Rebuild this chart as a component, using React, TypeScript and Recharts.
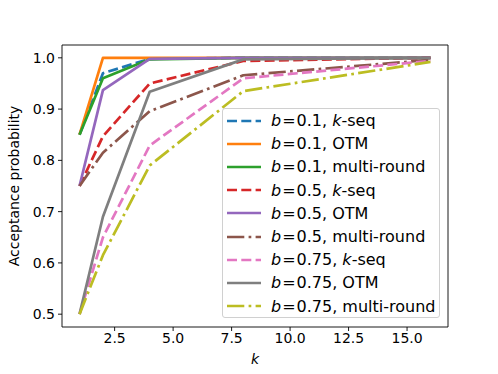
import React from 'react'
import {
  LineChart,
  Line,
  XAxis,
  YAxis,
  ReferenceArea,
} from 'recharts'

// sample counts on the x axis
const kValues = [1, 2, 4, 8, 16]

// acceptance probability per k
const b01Kseq = [0.85, 0.97, 0.998, 1.0, 1.0]
const b01Otm = [0.85, 1.0, 1.0, 1.0, 1.0]
const b01Multi = [0.85, 0.96, 0.997, 1.0, 1.0]
const b05Kseq = [0.75, 0.847, 0.95, 0.994, 1.0]
const b05Otm = [0.75, 0.937, 0.998, 1.0, 1.0]
const b05Multi = [0.75, 0.815, 0.896, 0.966, 0.996]
const b075Kseq = [0.5, 0.65, 0.829, 0.96, 0.994]
const b075Otm = [0.5, 0.69, 0.934, 0.997, 1.0]
const b075Multi = [0.5, 0.615, 0.79, 0.935, 0.992]

const xTicks = [2.5, 5.0, 7.5, 10.0, 12.5, 15.0]
const yTicks = [0.5, 0.6, 0.7, 0.8, 0.9, 1.0]

const FONT = '"DejaVu Sans", sans-serif'
const DASHED = '10 4.3'
const DASH_DOT = '17.3 4.3 2.7 4.3'

type Method = 'kseq' | 'otm' | 'multi'

// dash is a style choice per series (the b=0.1 multi-round curve is drawn solid)
const series: { key: string; b: string; method: Method; color: string; dash?: string; values: number[] }[] = [
  { key: 'b01Kseq', b: '0.1', method: 'kseq', color: '#1f77b4', dash: DASHED, values: b01Kseq },
  { key: 'b01Otm', b: '0.1', method: 'otm', color: '#ff7f0e', values: b01Otm },
  { key: 'b01Multi', b: '0.1', method: 'multi', color: '#2ca02c', values: b01Multi },
  { key: 'b05Kseq', b: '0.5', method: 'kseq', color: '#d62728', dash: DASHED, values: b05Kseq },
  { key: 'b05Otm', b: '0.5', method: 'otm', color: '#9467bd', values: b05Otm },
  { key: 'b05Multi', b: '0.5', method: 'multi', color: '#8c564b', dash: DASH_DOT, values: b05Multi },
  { key: 'b075Kseq', b: '0.75', method: 'kseq', color: '#e377c2', dash: DASHED, values: b075Kseq },
  { key: 'b075Otm', b: '0.75', method: 'otm', color: '#7f7f7f', values: b075Otm },
  { key: 'b075Multi', b: '0.75', method: 'multi', color: '#bcbd22', dash: DASH_DOT, values: b075Multi },
]

const data = kValues.map((k, i) => {
  const row: Record<string, number> = { k }
  for (const s of series) row[s.key] = s.values[i]
  return row
})

function MethodLabel({ method }: { method: Method }) {
  if (method === 'kseq') return <><i>k</i>-seq</>
  if (method === 'otm') return <>OTM</>
  return <>multi-round</>
}

// matplotlib-style legend box, laid over the upper-right part of the plot
function LegendBox() {
  return (
    <div
      style={{
        position: 'absolute',
        left: 222,
        top: 108,
        width: 218,
        height: 210,
        boxSizing: 'border-box',
        border: '1px solid #d0d0d0',
        borderRadius: 3,
        background: 'rgba(255,255,255,0.8)',
        padding: '0 0 0 4px',
        fontFamily: FONT,
        fontSize: 16,
        color: '#000',
      }}
    >
      {series.map((s) => (
        <div key={s.key} style={{ display: 'flex', alignItems: 'center', height: 23.2 }}>
          <svg width={34} height={6} style={{ marginRight: 10, flexShrink: 0 }}>
            <line
              x1={0}
              y1={3}
              x2={34}
              y2={3}
              stroke={s.color}
              strokeWidth={2.7}
              strokeDasharray={s.dash}
            />
          </svg>
          <span style={{ whiteSpace: 'nowrap' }}>
            <i>b</i>
            <span style={{ margin: '0 1px' }}>=</span>
            {s.b}, <MethodLabel method={s.method} />
          </span>
        </div>
      ))}
    </div>
  )
}

export default function App() {
  return (
    <div style={{ position: 'absolute', left: 0, top: 0, width: 498, height: 374, background: '#fff' }}>
      <LineChart
        width={498}
        height={374}
        data={data}
        margin={{ top: 45, right: 50, bottom: 0, left: 0 }}
      >
        <XAxis
          dataKey="k"
          type="number"
          domain={[0.25, 16.75]}
          ticks={xTicks}
          allowDataOverflow
          tickFormatter={(v: number) => v.toFixed(1)}
          tick={{ fill: '#000', fontSize: 14, fontFamily: FONT }}
          tickSize={4}
          tickMargin={2}
          tickLine={{ stroke: '#000', strokeWidth: 0.9 }}
          axisLine={false}
          height={47}
          label={{
            value: 'k',
            position: 'insideBottom',
            offset: 10,
            style: { fontFamily: FONT, fontSize: 14, fontStyle: 'italic', fill: '#000' },
          }}
        />
        <YAxis
          type="number"
          domain={[0.475, 1.025]}
          ticks={yTicks}
          allowDataOverflow
          tickFormatter={(v: number) => v.toFixed(1)}
          tick={{ fill: '#000', fontSize: 14, fontFamily: FONT }}
          tickSize={4}
          tickMargin={3}
          tickLine={{ stroke: '#000', strokeWidth: 0.9 }}
          axisLine={false}
          width={62}
          label={{
            value: 'Acceptance probability',
            angle: -90,
            position: 'insideLeft',
            offset: 14,
            style: { fontFamily: FONT, fontSize: 14, fill: '#000', textAnchor: 'middle' },
          }}
        />
        <ReferenceArea
          x1={0.25}
          x2={16.75}
          y1={0.475}
          y2={1.025}
          fill="none"
          stroke="#000"
          strokeWidth={0.9}
          fillOpacity={0}
          ifOverflow="visible"
        />
        {series.map((s) => (
          <Line
            key={s.key}
            dataKey={s.key}
            type="linear"
            stroke={s.color}
            strokeWidth={2.7}
            strokeDasharray={s.dash}
            strokeLinejoin="round"
            dot={false}
            activeDot={false}
            isAnimationActive={false}
          />
        ))}
      </LineChart>
      <LegendBox />
    </div>
  )
}
